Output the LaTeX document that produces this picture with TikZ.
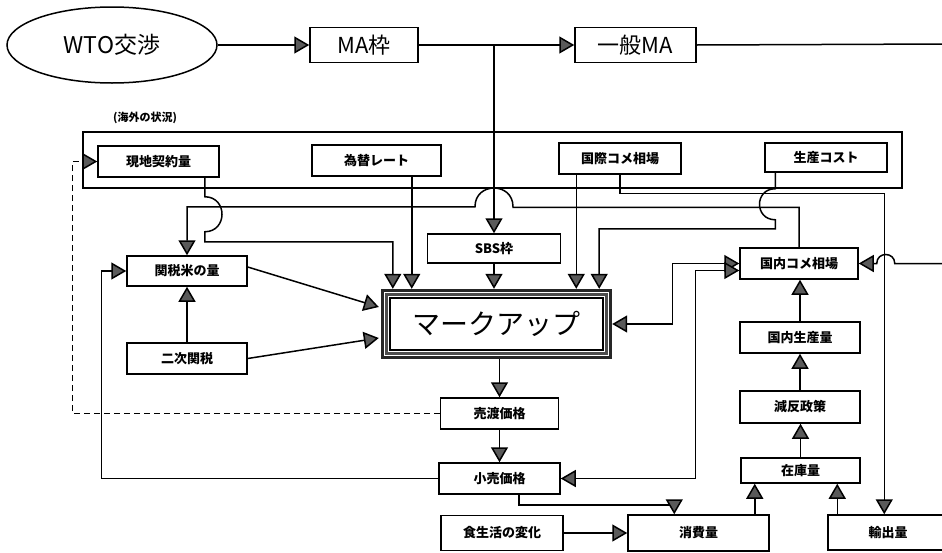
\documentclass[tikz,border=0pt]{standalone}
\usepackage{fontspec}
\newfontfamily\jp{Noto Sans CJK JP}
\usetikzlibrary{arrows.meta,calc,shapes.geometric}
\definecolor{arrgray}{RGB}{90,90,90}
\begin{document}
\begin{tikzpicture}[x=1pt,y=-1pt,
  ln/.style={line width=1.5pt},
  box/.style={draw,line width=1.5pt,inner sep=0pt,font=\jp\bfseries\fontsize{13}{15}\selectfont},
  bigbox/.style={draw,line width=1.5pt,inner sep=0pt,font=\jp\fontsize{22}{24}\selectfont},
  arr/.style={ln,-{Triangle[length=15pt,width=17pt,fill=arrgray]}},
  arrb/.style={ln,{Triangle[length=15pt,width=17pt,fill=arrgray]}-{Triangle[length=15pt,width=17pt,fill=arrgray]}},
]
\useasboundingbox (0,0) rectangle (942,552);

% top row
\node[draw,ellipse,line width=1.5pt,minimum width=210,minimum height=76,inner sep=0pt,font=\jp\fontsize{23}{26}\selectfont] (wto) at (112,45) {WTO交渉};
\node[bigbox,minimum width=108,minimum height=35] (ma) at (364,45) {MA枠};
\node[bigbox,minimum width=121,minimum height=35] (ippan) at (635.5,45) {一般MA};
\coordinate (er1) at (945,44);
\coordinate (er2) at (945,263.5);

% frame of overseas situation
\node[draw,line width=1.5pt,minimum width=819,minimum height=56,inner sep=0pt] (frame) at (492.5,160) {};
\node[font=\jp\bfseries\fontsize{11}{13}\selectfont] (kaigai) at (145,118) {(海外の状況)};

\node[box,minimum width=121,minimum height=31] (gen) at (158.5,161.5) {現地契約量};
\node[box,minimum width=129,minimum height=31] (kawase) at (376.5,160.5) {為替レート};
\node[box,minimum width=122,minimum height=31] (kokusai) at (620,158.5) {国際コメ相場};
\node[box,minimum width=122,minimum height=29] (cost) at (826,157.5) {生産コスト};

% middle
\node[box,minimum width=133,minimum height=29] (sbs) at (494,248.5) {SBS枠};
\node[inner sep=0pt,minimum width=231,minimum height=70,font=\jp\fontsize{28}{30}\selectfont] (mk) at (496.5,324) {マークアップ};
\draw[line width=3pt,black!85] ($(mk.north west)+(1.5,1.5)$) rectangle ($(mk.south east)+(-1.5,-1.5)$);
\draw[line width=3.5pt,black!70] ($(mk.north west)+(5.5,5.5)$) rectangle ($(mk.south east)+(-5.5,-5.5)$);
\draw[line width=2pt,black] ($(mk.north west)+(9.5,9.5)$) rectangle ($(mk.south east)+(-9.5,-9.5)$);

\node[box,minimum width=120,minimum height=30] (kanzei) at (187,271) {関税米の量};
\node[box,minimum width=120,minimum height=31] (niji) at (187,358.5) {二次関税};
\node[box,minimum width=118,minimum height=31] (uri) at (499.5,413.5) {売渡価格};
\node[box,minimum width=121,minimum height=31] (kouri) at (499.5,478.5) {小売価格};
\node[box,minimum width=122,minimum height=35] (shoku) at (502,533) {食生活の変化};
\node[box,minimum width=141,minimum height=36] (shohi) at (698.5,533) {消費量};
\node[box,minimum width=120,minimum height=35] (yushutsu) at (888,532.5) {輸出量};

\node[box,minimum width=118,minimum height=31] (kokunai) at (799,263.5) {国内コメ相場};
\node[box,minimum width=120,minimum height=31] (seisan) at (800,337.5) {国内生産量};
\node[box,minimum width=120,minimum height=32] (genpan) at (800,407) {減反政策};
\node[box,minimum width=119,minimum height=25] (zaiko) at (800.5,470.5) {在庫量};

% connectors: top
\draw[arr] (wto.east) -- (ma.west);
\draw[arr] (ma.east) -- (ippan.west);
\draw[ln] (ippan.east) -- (er1);
\coordinate (j1) at (sbs.north |- ma.east);
\draw[arr] (j1) -- (sbs.north);

% into markup from above
\draw[arr] ($(gen.south east)+(-15,0)$) -- ++(0,19) .. controls +(23,0) and +(23,0) .. ++(0,35) -- ++(0,10) -| ($(mk.north west)+(12,0)$);
\draw[arr] ($(kawase.south east)+(-30,0)$) coordinate (k1) -- (k1 |- mk.north);
\draw[arr] (sbs.south) -- (sbs.south |- mk.north);
\draw[arr] ($(kokusai.south west)+(18,0)$) coordinate (k2) -- (k2 |- mk.north);
\draw[arr] ($(cost.south west)+(11,0)$) -- ++(0,16) .. controls +(-21,0) and +(-21,0) .. ++(0,31) -- ++(0,9) -| ($(mk.north east)+(-13,0)$);

% kokusai -> export
\draw[arr] (kokusai.south) -- ++(0,18.5) -| ($(yushutsu.north west)+(57,0)$);

% domestic price -> tariff rice quantity (with hop over SBS line)
\draw[arr] (kokunai.north) -- ++(0,-40) -| ($(sbs.north)+(19,-26.5)$) .. controls +(0,-25) and +(0,-25) .. ++(-38,0) -| (kanzei.north);

% right edge -> domestic price (with hop)
\draw[arr] (er2) -- ($(kokunai.east)+(36,0)$) .. controls +(0,-12) and +(0,-12) .. ($(kokunai.east)+(18,0)$) -- (kokunai.east);

% left side
\draw[arr] ($(kanzei.east)+(0,-4)$) -- ($(mk.west)+(-2,-17)$);
\draw[arr] (niji.east) -- ($(mk.west)+(-2,14)$);
\draw[arr] (niji.north) -- (kanzei.south);
\draw[arr] (kouri.west) -| ($(kanzei.west)+(-25,0)$) -- (kanzei.west);
\draw[arr,dash pattern=on 6pt off 4pt] (uri.west) -| ($(gen.west)+(-25,0)$) -- (gen.west);

% center column
\draw[arr] (uri.north |- mk.south) -- (uri.north);
\draw[arr] (uri.south) -- (kouri.north);
\draw[arr] ($(kouri.south)+(19.5,0)$) -- ++(0,10) -| ($(shohi.north west)+(47,0)$);
\draw[arr] (shoku.east) -- (shohi.west);

% bidirectional
\draw[arrb] (mk.east) -| ($(kokunai.west)+(-67,0)$) -- (kokunai.west);
\draw[arrb] (kouri.east) -| ($(kokunai.west)+(-44,7)$) -- ($(kokunai.west)+(0,7)$);

% right column
\draw[arr] (seisan.north) -- (seisan.north |- kokunai.south);
\draw[arr] (genpan.north) -- (genpan.north |- seisan.south);
\draw[arr] (zaiko.north) -- (zaiko.north |- genpan.south);
\draw[arr] ($(shohi.north east)+(-15,0)$) coordinate (s1) -- (s1 |- zaiko.south);
\draw[arr] ($(yushutsu.north west)+(10,0)$) coordinate (y1) -- (y1 |- zaiko.south);
\end{tikzpicture}
\end{document}
